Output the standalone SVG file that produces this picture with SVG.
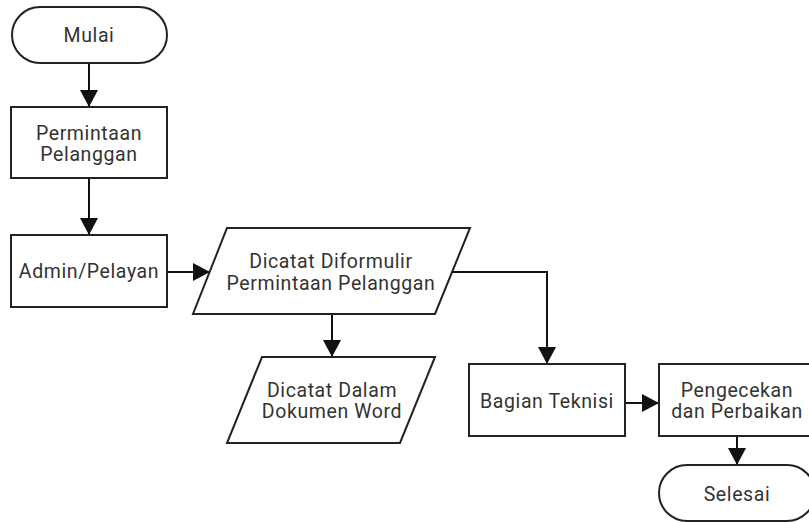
<svg xmlns="http://www.w3.org/2000/svg" width="809" height="522" viewBox="0 0 809 522">
<style>
.s{fill:#fff;stroke:#222;stroke-width:2}
.t{font-family:Roboto,"Liberation Sans",sans-serif;font-size:19.5px;letter-spacing:0.6px;fill:#333;text-anchor:middle}
.c{fill:none;stroke:#111;stroke-width:2}
</style>
<defs>
<marker id="ah" markerUnits="userSpaceOnUse" markerWidth="18" markerHeight="18" refX="17" refY="9" orient="auto">
<path d="M0,0 L17,9 L0,18 z" fill="#111"/>
</marker>
</defs>
<rect width="809" height="522" fill="#fff"/>
<g id="connectors">
<path class="c" d="M89,63 V107" marker-end="url(#ah)"/>
<path class="c" d="M89,178 V235" marker-end="url(#ah)"/>
<path class="c" d="M167,272 H210" marker-end="url(#ah)"/>
<path class="c" d="M452,272 H547 V364" marker-end="url(#ah)"/>
<path class="c" d="M332,314 V357" marker-end="url(#ah)"/>
<path class="c" d="M625,403 H659" marker-end="url(#ah)"/>
<path class="c" d="M737,436 V465" marker-end="url(#ah)"/>
</g>
<g id="mulai">
<rect class="s" x="12" y="7" width="155" height="56" rx="28"/>
<text class="t" x="89" y="42">Mulai</text>
</g>
<g id="permintaan">
<rect class="s" x="11" y="107" width="156" height="71"/>
<text class="t" x="89" y="140">Permintaan</text>
<text class="t" x="89" y="161">Pelanggan</text>
</g>
<g id="admin">
<rect class="s" x="11" y="235" width="156" height="72"/>
<text class="t" x="89" y="278">Admin/Pelayan</text>
</g>
<g id="dicatat-formulir">
<polygon class="s" points="227,228 470,228 435,314 193,314"/>
<text class="t" x="331" y="268">Dicatat Diformulir</text>
<text class="t" x="331" y="290">Permintaan Pelanggan</text>
</g>
<g id="dicatat-word">
<polygon class="s" points="262,357 435,357 400,443 227,443"/>
<text class="t" x="332" y="397">Dicatat Dalam</text>
<text class="t" x="332" y="418">Dokumen Word</text>
</g>
<g id="teknisi">
<rect class="s" x="469" y="364" width="156" height="72"/>
<text class="t" x="547" y="408">Bagian Teknisi</text>
</g>
<g id="pengecekan">
<rect class="s" x="659" y="364" width="156" height="72"/>
<text class="t" x="737" y="397">Pengecekan</text>
<text class="t" x="737" y="418">dan Perbaikan</text>
</g>
<g id="selesai">
<rect class="s" x="659" y="465" width="156" height="56" rx="28"/>
<text class="t" x="737" y="501">Selesai</text>
</g>
</svg>
